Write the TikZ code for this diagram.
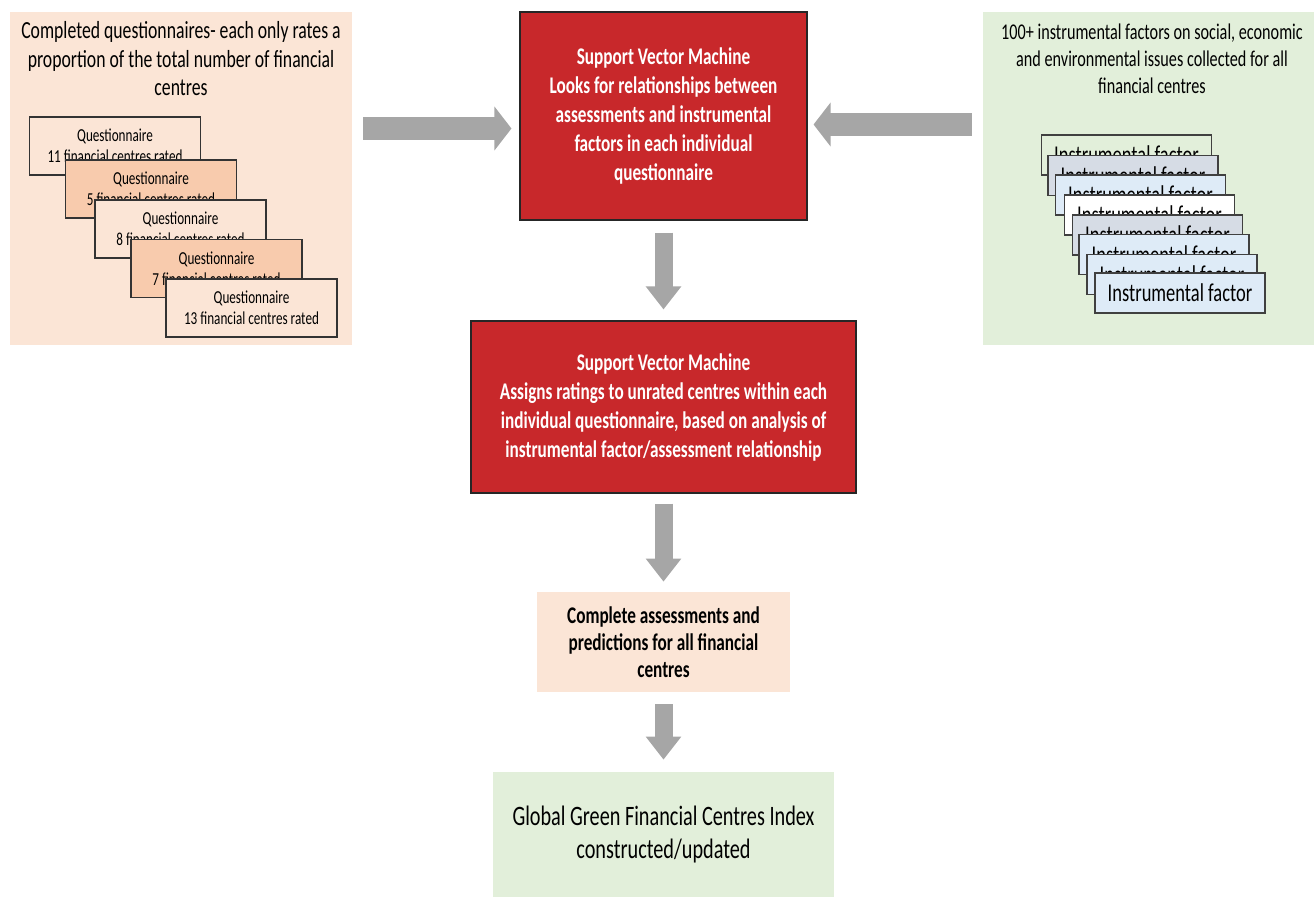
\documentclass[tikz,border=0pt]{standalone}
\usepackage{fontspec}
\setmainfont{Carlito}[FakeStretch=0.72]
\usetikzlibrary{arrows.meta}

\definecolor{peach}{HTML}{FBE5D6}
\definecolor{peachdark}{HTML}{F8CBAD}
\definecolor{sage}{HTML}{E2EFDA}
\definecolor{svmred}{HTML}{C8282B}
\definecolor{arrowgray}{HTML}{A6A6A6}
\definecolor{bluegray}{HTML}{D6DCE5}
\definecolor{paleblue}{HTML}{DEEBF7}

\begin{document}
\begin{tikzpicture}[x=0.2mm, y=-0.2mm,
    panel/.style={inner sep=0pt},
    sheet/.style={draw=black!80, line width=0.6pt, inner sep=0pt, minimum width=34.2mm, minimum height=11.6mm, align=center, font=\fontsize{10.4}{12}\selectfont},
    factor/.style={draw=black!75, line width=0.6pt, inner sep=0pt, minimum width=34mm, minimum height=8mm, font=\fontsize{14.6}{16}\selectfont},
    svm/.style={draw=black!85, line width=0.6pt, fill=svmred, text=white, align=center, inner sep=0pt, font=\bfseries\fontsize{13.6}{16.5}\selectfont},
    fatarrow/.style={draw=arrowgray, line width=4.6mm, -{Triangle[length=3.4mm, width=8.6mm]}},
    thinarrow/.style={draw=arrowgray, line width=3.6mm, -{Triangle[length=4.6mm, width=6.8mm]}}]

    \useasboundingbox (0,0) rectangle (1314,897);

    \node[panel, fill=peach, minimum width=68.4mm, minimum height=66.6mm] (lpanel) at (181,178.5) {};
    \node[below, align=center, inner sep=0pt, font=\fontsize{14}{16.3}\selectfont] (ltitle) at (181,21) {Completed questionnaires- each only rates a\\proportion of the total number of financial\\centres};
    \node[sheet, fill=peach] (q1) at (115,146) {Questionnaire\\11 financial centres rated};
    \node[sheet, fill=peachdark] (q2) at (151,189) {Questionnaire\\5 financial centres rated};
    \node[sheet, fill=peach] (q3) at (180.5,229) {Questionnaire\\8 financial centres rated};
    \node[sheet, fill=peachdark] (q4) at (216.5,268.5) {Questionnaire\\7 financial centres rated};
    \node[sheet, fill=peach] (q5) at (251.5,308) {Questionnaire\\13 financial centres rated};

    \node[panel, fill=sage, minimum width=66.2mm, minimum height=66.6mm] (rpanel) at (1148.5,178.5) {};
    \node[below, align=center, inner sep=0pt, font=\fontsize{12.8}{15.1}\selectfont] (rtitle) at (1152,24) {100+ instrumental factors on social, economic\\and environmental issues collected for all\\financial centres};
    \node[factor, fill=sage] (f1) at (1126.5,155) {Instrumental factor};
    \node[factor, fill=bluegray] (f2) at (1133,175.5) {Instrumental factor};
    \node[factor, fill=paleblue] (f3) at (1140.5,195) {Instrumental factor};
    \node[factor, fill=white] (f4) at (1149.5,215) {Instrumental factor};
    \node[factor, fill=bluegray] (f5) at (1157.5,235) {Instrumental factor};
    \node[factor, fill=paleblue] (f6) at (1164,254.5) {Instrumental factor};
    \node[factor, fill=paleblue] (f7) at (1172,274.5) {Instrumental factor};
    \node[factor, fill=paleblue] (f8) at (1180,293) {Instrumental factor};

    \node[svm, minimum width=57.4mm, minimum height=41.6mm] (svm1) at (663.5,116) {Support Vector Machine\\Looks for relationships between\\assessments and instrumental\\factors in each individual\\questionnaire};
    \node[svm, minimum width=77mm, minimum height=34.4mm] (svm2) at (663.5,407) {Support Vector Machine\\Assigns ratings to unrated centres within each\\individual questionnaire, based on analysis of\\instrumental factor/assessment relationship};
    \node[panel, fill=peach, align=center, minimum width=50.6mm, minimum height=20mm, font=\bfseries\fontsize{13.6}{15.3}\selectfont] (done) at (663.5,642) {Complete assessments and\\predictions for all financial\\centres};
    \node[panel, fill=sage, align=center, minimum width=68.2mm, minimum height=25mm, font=\fontsize{16}{18.5}\selectfont] (ggfci) at (663.5,834.5) {Global Green Financial Centres Index\\constructed/updated};

    \draw[fatarrow, shorten <=2.2mm, shorten >=1.6mm] (lpanel.east |- 0,128.5) -- (svm1.west |- 0,128.5);
    \draw[fatarrow, shorten <=2.2mm, shorten >=1.2mm] (rpanel.west |- 0,124.5) -- (svm1.east |- 0,124.5);
    \draw[thinarrow, shorten <=2.4mm, shorten >=2.2mm] (svm1.south) -- (svm2.north);
    \draw[thinarrow, shorten <=2mm, shorten >=2mm] (svm2.south) -- (done.north);
    \draw[thinarrow, shorten <=2.4mm, shorten >=2.4mm] (done.south) -- (ggfci.north);

\end{tikzpicture}
\end{document}
